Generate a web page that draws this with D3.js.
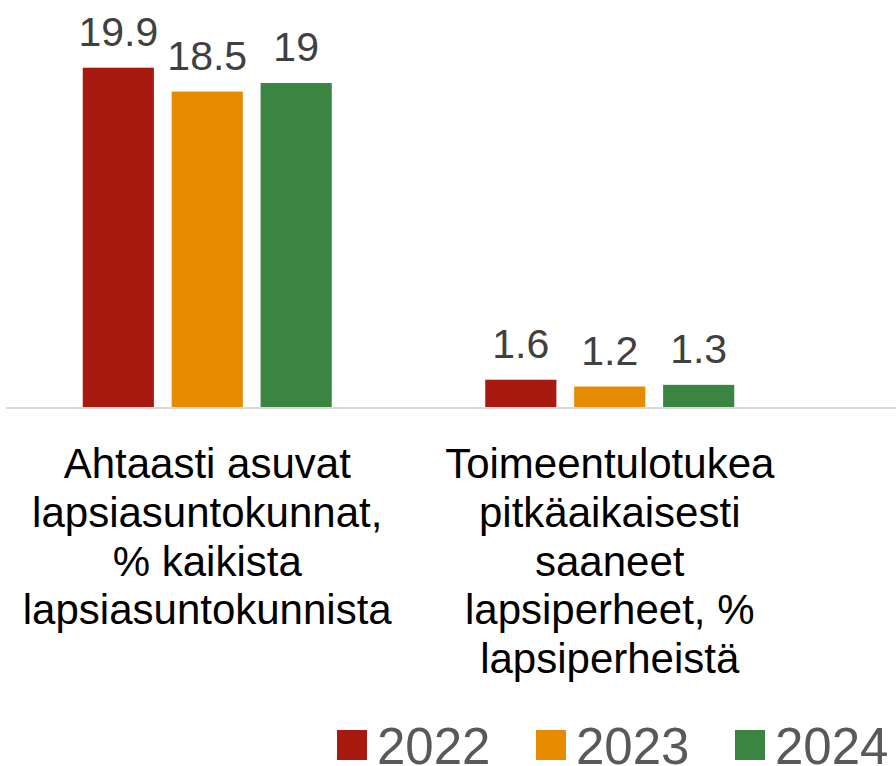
<!doctype html>
<html lang="fi">
<head>
<meta charset="utf-8">
<title>Lapsiperheet</title>
<script src="https://cdn.jsdelivr.net/npm/d3@7"></script>
<style>
  body { margin: 0; background: #fff; }
  svg { display: block; font-family: "Liberation Sans", Arial, sans-serif; }
</style>
</head>
<body>
<svg id="chart" width="896" height="766"></svg>
<script>
// data
var categories = [
  ["Ahtaasti asuvat", "lapsiasuntokunnat,", "% kaikista", "lapsiasuntokunnista"],
  ["Toimeentulotukea", "pitkäaikaisesti", "saaneet", "lapsiperheet, %", "lapsiperheistä"]
];
var years = ["2022", "2023", "2024"];
var values2022 = [19.9, 1.6];
var values2023 = [18.5, 1.2];
var values2024 = [19, 1.3];
var colors = ["#A8190F", "#E68A00", "#3A8541"];

var seriesValues = [values2022, values2023, values2024];

var svg = d3.select("#chart");
var baseY = 407;

var x0 = d3.scaleBand()
  .domain(d3.range(categories.length))
  .range([6, 811])
  .padding(0);

var x1 = d3.scaleBand()
  .domain(years)
  .range([0, 249])
  .paddingInner(0.2)
  .paddingOuter(0);

var y = d3.scaleLinear()
  .domain([0, 20])
  .range([baseY, 66]);

// axis line
svg.append("line")
  .attr("x1", 6).attr("x2", 896)
  .attr("y1", baseY + 1).attr("y2", baseY + 1)
  .attr("stroke", "#d9d9d9")
  .attr("stroke-width", 2);

var groups = svg.append("g").attr("id", "bars")
  .selectAll("g")
  .data(categories)
  .enter()
  .append("g")
  .attr("transform", function(d, i){
    return "translate(" + (x0(i) + x0.bandwidth() / 2 - 124.5) + ",0)";
  });

groups.each(function(c, ci){
  var g = d3.select(this);
  var rows = years.map(function(yr, si){ return {year: yr, value: seriesValues[si][ci], color: colors[si]}; });

  g.selectAll("rect")
    .data(rows)
    .enter()
    .append("rect")
    .attr("x", function(d){ return x1(d.year); })
    .attr("y", function(d){ return y(d.value); })
    .attr("width", x1.bandwidth())
    .attr("height", function(d){ return baseY - y(d.value); })
    .attr("fill", function(d){ return d.color; });

  g.selectAll("text.val")
    .data(rows)
    .enter()
    .append("text")
    .attr("class", "val")
    .attr("x", function(d){ return x1(d.year) + x1.bandwidth() / 2; })
    .attr("y", function(d){ return y(d.value) - 22; })
    .attr("text-anchor", "middle")
    .attr("font-size", 41)
    .attr("fill", "#404040")
    .text(function(d){ return d.value; });
});

// category labels
var labels = svg.append("g").attr("id", "labels")
  .selectAll("text")
  .data(categories)
  .enter()
  .append("text")
  .attr("x", function(d, i){ return x0(i) + x0.bandwidth() / 2; })
  .attr("y", 478)
  .attr("text-anchor", "middle")
  .attr("font-size", 42)
  .attr("fill", "#000");

labels.selectAll("tspan")
  .data(function(d){ return d; })
  .enter()
  .append("tspan")
  .attr("x", function(){ return d3.select(this.parentNode).attr("x"); })
  .attr("dy", function(d, i){ return i === 0 ? 0 : 48.8; })
  .text(function(d){ return d; });

// legend
var legend = svg.append("g").attr("id", "legend")
  .selectAll("g")
  .data(years)
  .enter()
  .append("g")
  .attr("transform", function(d, i){ return "translate(" + (337 + i * 199) + ",0)"; });

legend.append("rect")
  .attr("x", 0).attr("y", 730)
  .attr("width", 30).attr("height", 30)
  .attr("fill", function(d, i){ return colors[i]; });

legend.append("text")
  .attr("x", 40).attr("y", 764)
  .attr("font-size", 51)
  .attr("fill", "#595959")
  .text(function(d){ return d; });
</script>
</body>
</html>
